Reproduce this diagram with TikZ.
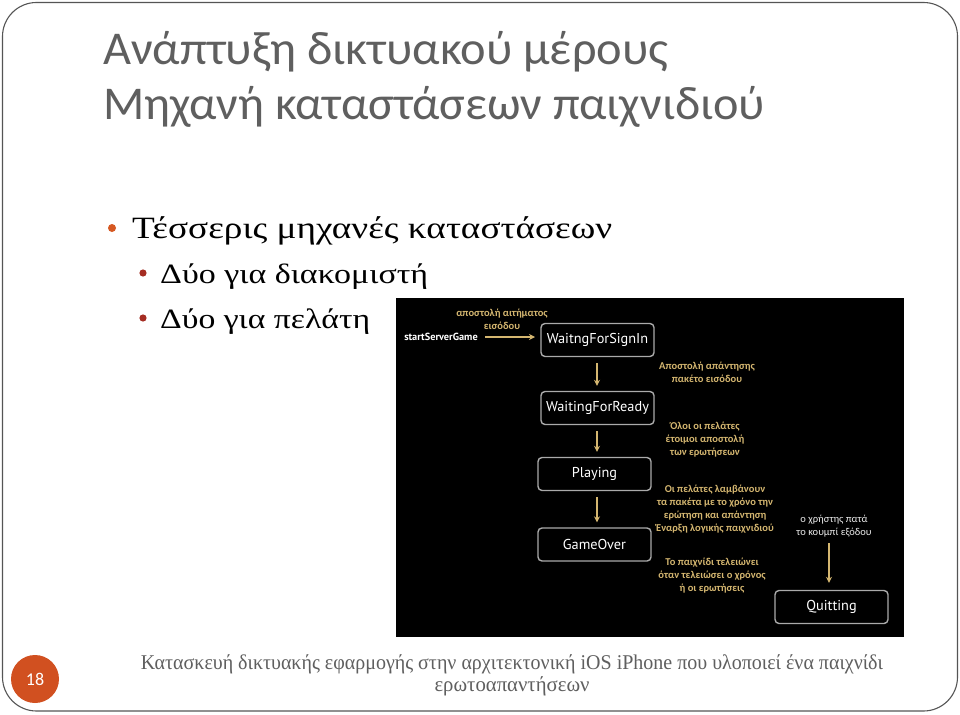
\documentclass[tikz,border=0pt]{standalone}
\usepackage{graphicx}
\usepackage{fontspec}
\setmainfont{Liberation Serif}
\newfontfamily\titlefont{Carlito}
\newfontfamily\boxfont{PT Sans}
\newfontfamily\goldfont{Carlito}
\usetikzlibrary{arrows.meta}
\definecolor{framegray}{RGB}{85,85,85}
\definecolor{titlegray}{RGB}{95,95,95}
\definecolor{bulletorange}{RGB}{214,88,34}
\definecolor{bulletred}{RGB}{165,45,35}
\definecolor{pagecircle}{RGB}{209,80,32}
\definecolor{gold}{RGB}{212,182,112}
\definecolor{boxborder}{RGB}{170,170,170}
\definecolor{footgray}{RGB}{95,95,95}
\tikzset{
  titletext/.style={anchor=base west, inner sep=0, text=titlegray, font=\titlefont\fontsize{47}{55}\selectfont},
  bullettext/.style={anchor=base west, inner sep=0, text=black, font=\fontsize{31}{36}\selectfont},
  subtext/.style={anchor=base west, inner sep=0, text=black, font=\fontsize{28}{32}\selectfont},
  statebox/.style={draw=boxborder, line width=1.4pt, rounded corners=4pt, fill=black, text=white,
     minimum width=113pt, minimum height=33pt, inner sep=0, font=\boxfont\fontsize{14.3}{17}\selectfont},
  goldlabel/.style={text=gold, align=center, inner sep=0, font=\goldfont\bfseries\fontsize{10.5}{13}\selectfont},
  whitelabel/.style={text=white!85!gray, align=center, inner sep=0, font=\goldfont\fontsize{10.5}{13}\selectfont},
  flow/.style={draw=gold, line width=1.3pt, -{Stealth[length=6pt,width=6pt]}},
  foot/.style={inner sep=0, text=footgray, font=\fontsize{21}{24}\selectfont}
}
\begin{document}
\begin{tikzpicture}[x=1pt,y=-1pt]
\useasboundingbox (0,0) rectangle (960,714);
\fill[white] (0,0) rectangle (960,714);
\draw[framegray, line width=1.1pt, rounded corners=34pt] (2.5,2.5) rectangle (957.5,711);

% title
\node[titletext] (t1) at (103,65) {\resizebox{565pt}{\height}{Ανάπτυξη δικτυακού μέρους}};
\node[titletext] (t2) at (103,120) {\resizebox{662pt}{\height}{Μηχανή καταστάσεων παιχνιδιού}};

% bullets
\fill[bulletorange] (112,228) circle (4);
\node[bullettext] (b1) at (132,238) {\resizebox{480pt}{\height}{Τέσσερις μηχανές καταστάσεων}};
\fill[bulletred] (143,273) circle (3.6);
\node[subtext] (s1) at (160,283) {\resizebox{268pt}{\height}{Δύο για διακομιστή}};
\fill[bulletred] (143,318) circle (3.6);
\node[subtext] (s2) at (160,328) {\resizebox{210pt}{\height}{Δύο για πελάτη}};

% diagram
\fill[black] (396,298) rectangle (904,637);
\node[statebox] (w1) at (597.5,340) {WaitngForSignIn};
\node[statebox] (w2) at (597.5,408) {WaitingForReady};
\node[statebox] (pl) at (594.5,474) {Playing};
\node[statebox] (go) at (594.5,544.5) {GameOver};
\node[statebox] (qu) at (831.5,607) {Quitting};

\node[text=white, inner sep=0, font=\boxfont\bfseries\fontsize{10.3}{12}\selectfont] (ss) at (441,337) {startServerGame};
\node[goldlabel] (l0) at (502,319) {αποστολή αιτήματος\\εισόδου};
\node[goldlabel] (l1) at (707,372.5) {Αποστολή απάντησης\\πακέτο εισόδου};
\node[goldlabel] (l2) at (705,440) {Όλοι οι πελάτες\\έτοιμοι αποστολή\\των ερωτήσεων};
\node[goldlabel] (l3) at (715,509.5) {Οι πελάτες λαμβάνουν\\τα πακέτα με το χρόνο την\\ερώτηση και απάντηση\\Έναρξη λογικής παιχνιδιού};
\node[goldlabel] (l4) at (712,576) {Το παιχνίδι τελειώνει\\όταν τελειώσει ο χρόνος\\ή οι ερωτήσεις};
\node[whitelabel] (l5) at (834,526.5) {ο χρήστης πατά\\το κουμπί εξόδου};

\coordinate (ssend) at (485,337);
\coordinate (w1in) at (535,337);
\coordinate (col) at (597,0);
\draw[flow] (ssend) -- (w1in);
\draw[flow] ([yshift=-6pt]w1.south -| col) -- ([yshift=5pt]w2.north -| col);
\draw[flow] ([yshift=-6pt]w2.south -| col) -- ([yshift=5pt]pl.north -| col);
\draw[flow] ([yshift=-6pt]pl.south -| col) -- ([yshift=5pt]go.north -| col);
\coordinate (qstart) at (829,543);
\draw[flow] (qstart) -- ([yshift=7pt]qu.north -| qstart);

% footer
\fill[pagecircle] (35,679) circle (24);
\node[text=white, inner sep=0, font=\titlefont\fontsize{18}{20}\selectfont] (pg) at (35,679) {18};
\node[foot, anchor=base] (f1) at (512,669) {\resizebox{742pt}{\height}{Κατασκευή δικτυακής εφαρμογής στην αρχιτεκτονική iOS iPhone που υλοποιεί ένα παιχνίδι}};
\node[foot, anchor=base] (f2) at (512,691) {\resizebox{155pt}{\height}{ερωτοαπαντήσεων}};
\end{tikzpicture}
\end{document}
